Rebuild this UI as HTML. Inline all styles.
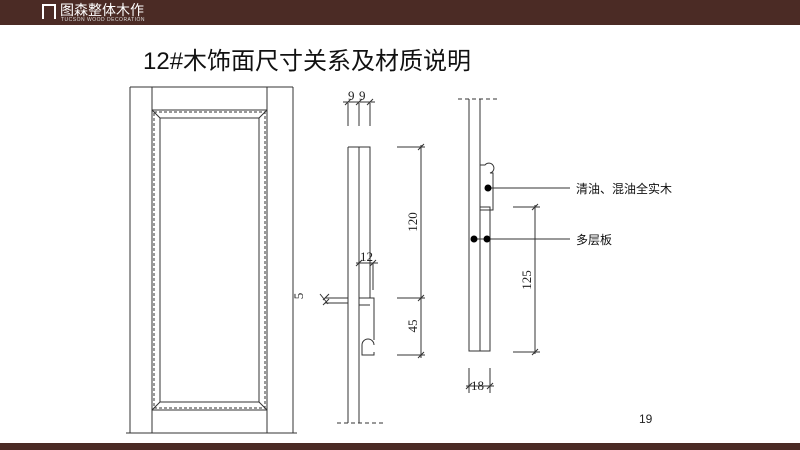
<!DOCTYPE html>
<html><head><meta charset="utf-8"><style>
body{margin:0;width:800px;height:450px;overflow:hidden;background:#fff;position:relative;font-family:"Liberation Sans","Noto Sans CJK SC",sans-serif}
.hd{position:absolute;left:0;top:0;width:800px;height:25px;background:#4b2b25}
.ft{position:absolute;left:0;top:443px;width:800px;height:7px;background:#4b2b25}
</style></head><body>
<div class="hd">
<div style="position:absolute;left:42px;top:4px;width:14px;height:15px;border:2px solid #fff;border-bottom:none;box-sizing:border-box"></div>
<div style="position:absolute;left:60px;top:2px;color:#fff;font-size:14px;line-height:16px;font-family:'Noto Sans CJK SC',sans-serif">图森整体木作</div>
<div style="position:absolute;left:61px;top:17px;color:#ddd;font-size:5px;line-height:6px;letter-spacing:0.5px">TUCSON WOOD DECORATION</div>
</div>
<div class="ft"></div>
<div style="position:absolute;left:143px;top:48px;font-size:24px;line-height:28px;color:#111">12#木饰面尺寸关系及材质说明</div>
<div style="position:absolute;left:639px;top:412px;font-size:12px;color:#222">19</div>
<svg width="800" height="450" style="position:absolute;left:0;top:0" fill="none" stroke="#333" stroke-width="1">
<!-- door -->
<path d="M130 87H293M130 87V433M293 87V433M152 87V433M267 87V433M126 433H297"/>
<path d="M152 110H267M152 410H267"/>
<rect x="154" y="112" width="111" height="296" stroke-dasharray="3 2"/>
<rect x="160" y="118" width="99" height="284"/>
<path d="M152 110L160 118M267 110L259 118M152 410L160 402M267 410L259 402"/>
<!-- section 1 -->
<path d="M348 147V423M359 147V423M348 147H370V298M359 298H374V340M374 352V355H362V345M359 305H370"/>
<path d="M362 345a6 6 0 1 1 12 0" />
<path d="M337 423H385" stroke-dasharray="4 3"/>
<path d="M348 103V126M359 103V126M370 103V126M343 102H375"/>
<path d="M345 105l6-6M356 105l6-6M367 105l6-6"/>
<path d="M359 250V263M373 263V290M356 263H378M356 266l6-6M370 266l6-6"/>
<path d="M325 298H348M325 303H348M323 305l6-6M323 300l6-6M320 294l8 10"/>
<path d="M397 147H425M397 298H425M397 355H425M421 145V358M418 150l6-6M418 301l6-6M418 358l6-6"/>
<!-- section 2 -->
<path d="M469 99V351H490V207H480M480 99V351M480 210H493V176M480 210V165"/>
<path d="M480 165h5a5 5 0 1 1 5 8h3v3"/>
<path d="M458 99H500" stroke-dasharray="4 3"/>
<path d="M488 188H570M474 239H570"/>
<path d="M513 207H540M513 352H540M535 205V354M532 210l6-6M532 355l6-6"/>
<path d="M469 368V393M490 368V393M466 386H494M466 389l6-6M487 389l6-6"/>
</svg>
<svg width="800" height="450" style="position:absolute;left:0;top:0">
<circle cx="488" cy="188" r="3.5" fill="#000"/><circle cx="474" cy="239" r="3.5" fill="#000"/><circle cx="487" cy="239" r="3.5" fill="#000"/>
<g font-family="Liberation Serif,serif" font-size="13" fill="#222">
<text x="348" y="100">9</text><text x="359" y="100">9</text>
<text x="360" y="261">12</text>
<text x="471" y="390">18</text>
<text transform="translate(417 222) rotate(-90)" text-anchor="middle">120</text>
<text transform="translate(417 326) rotate(-90)" text-anchor="middle">45</text>
<text transform="translate(531 280) rotate(-90)" text-anchor="middle">125</text>
<text transform="translate(303 296) rotate(-90)" text-anchor="middle">5</text>
</g>
<g font-family="Noto Sans CJK SC,sans-serif" font-size="12" fill="#111">
<text x="576" y="193">清油、混油全实木</text>
<text x="576" y="244">多层板</text>
</g>
</svg>
</body></html>
